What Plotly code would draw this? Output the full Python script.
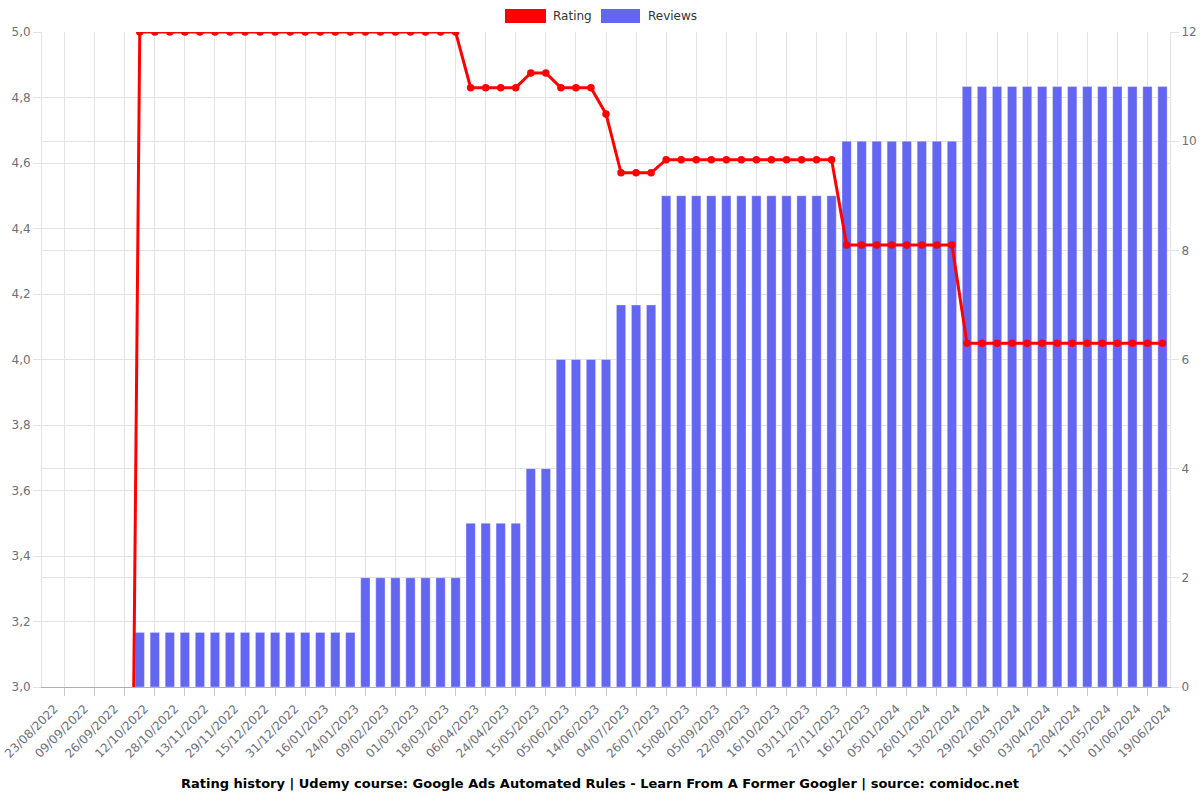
import plotly.graph_objects as go

# ---------------- data ----------------
tick_labels = [
    "23/08/2022", "09/09/2022", "26/09/2022", "12/10/2022", "28/10/2022",
    "13/11/2022", "29/11/2022", "15/12/2022", "31/12/2022", "16/01/2023",
    "24/01/2023", "09/02/2023", "01/03/2023", "18/03/2023", "06/04/2023",
    "24/04/2023", "15/05/2023", "05/06/2023", "14/06/2023", "04/07/2023",
    "26/07/2023", "15/08/2023", "05/09/2023", "22/09/2023", "16/10/2023",
    "03/11/2023", "27/11/2023", "16/12/2023", "05/01/2024", "26/01/2024",
    "13/02/2024", "29/02/2024", "16/03/2024", "03/04/2024", "22/04/2024",
    "11/05/2024", "01/06/2024", "19/06/2024",
]

ratings = [
    0, 0, 0, 0, 0, 0,
    5.0, 5.0, 5.0, 5.0, 5.0, 5.0, 5.0, 5.0, 5.0, 5.0, 5.0,
    5.0, 5.0, 5.0, 5.0, 5.0, 5.0, 5.0, 5.0, 5.0, 5.0, 5.0,
    4.83, 4.83, 4.83, 4.83,
    4.875, 4.875,
    4.83, 4.83, 4.83,
    4.75,
    4.57, 4.57, 4.57,
    4.61, 4.61, 4.61, 4.61, 4.61, 4.61, 4.61, 4.61, 4.61, 4.61, 4.61, 4.61,
    4.35, 4.35, 4.35, 4.35, 4.35, 4.35, 4.35, 4.35,
    4.05, 4.05, 4.05, 4.05, 4.05, 4.05, 4.05, 4.05, 4.05, 4.05, 4.05, 4.05, 4.05, 4.05,
]

reviews = [
    0, 0, 0, 0, 0, 0,
    1, 1, 1, 1, 1, 1, 1, 1, 1, 1, 1, 1, 1, 1, 1,
    2, 2, 2, 2, 2, 2, 2,
    3, 3, 3, 3,
    4, 4,
    6, 6, 6, 6,
    7, 7, 7,
    9, 9, 9, 9, 9, 9, 9, 9, 9, 9, 9, 9,
    10, 10, 10, 10, 10, 10, 10, 10,
    11, 11, 11, 11, 11, 11, 11, 11, 11, 11, 11, 11, 11, 11,
]

title_text = ("Rating history | Udemy course: Google Ads Automated Rules - "
              "Learn From A Former Googler | source: comidoc.net")

# ---------------- figure ----------------
n = len(ratings)
x = list(range(n))
label_pos = x[::2]
grid_pos = x[1::2]

RED = "#ff0000"
BLUE = "#6366f1"
GRID = "#e3e3e3"

fig = go.Figure()
fig.add_trace(go.Bar(
    x=x, y=reviews, name="Reviews", yaxis="y", width=0.62,
    marker=dict(color=BLUE, line=dict(color="rgba(255,255,255,0.35)", width=1)),
))
fig.add_trace(go.Scatter(
    x=x, y=ratings, name="Rating", yaxis="y2", mode="lines+markers",
    line=dict(color=RED, width=3), marker=dict(color=RED, size=7.5),
))

W, H = 1200, 800
ML, MR, MT, MB = 42, 30, 32, 113
pw, ph = W - ML - MR, H - MT - MB


def px_x(p):
    return (p - ML) / pw


def px_y(p):
    return (H - MB - p) / ph


legend_items = [("Rating", RED, 505, 546, 551), ("Reviews", BLUE, 601, 640, 646)]
shapes, annotations = [], []
for name, col, x0, x1, tx in legend_items:
    shapes.append(dict(type="rect", xref="paper", yref="paper",
                       x0=px_x(x0), x1=px_x(x1), y0=px_y(23), y1=px_y(9),
                       fillcolor=col, line=dict(width=0)))
    annotations.append(dict(text=name, xref="paper", yref="paper", x=px_x(tx),
                            y=px_y(16), xanchor="left", yanchor="middle",
                            showarrow=False, font=dict(size=12, color="#333333")))

fig.update_layout(
    width=W, height=H,
    margin=dict(l=ML, r=MR, t=MT, b=MB, autoexpand=False),
    paper_bgcolor="white", plot_bgcolor="white",
    separators=", ",
    showlegend=False,
    font=dict(family="DejaVu Sans", size=12, color="#6e7079"),
    title=dict(text="<b>" + title_text + "</b>", x=0.5, xref="container",
               xanchor="center", y=17 / H, yref="container", yanchor="middle",
               font=dict(family="DejaVu Sans", size=13, color="#000000")),
    xaxis=dict(
        range=[-0.5, n - 0.5], tickmode="array", tickvals=label_pos,
        ticktext=tick_labels, tickangle=-45, showgrid=False, ticks="",
        showline=True, linecolor="#b0b0b0", zeroline=False, automargin=False,
        ticklabeloverflow="allow", ticklabelshift=5, ticklabelstandoff=9,
        tickfont=dict(size=12, color="#6e7079"),
        minor=dict(tickmode="array", tickvals=grid_pos, showgrid=True,
                   gridcolor=GRID, ticks="outside", ticklen=8,
                   tickcolor="#c8c8c8"),
    ),
    yaxis=dict(
        side="right", range=[0, 12], dtick=2, showgrid=True, gridcolor=GRID,
        ticks="outside", ticklen=8, tickcolor=GRID, showline=True,
        linecolor=GRID, zeroline=False, automargin=False,
        tickfont=dict(size=12, color="#6e7079"),
    ),
    yaxis2=dict(
        side="left", overlaying="y", range=[3, 5], dtick=0.2, tickformat=".1f",
        showgrid=True, gridcolor=GRID, ticks="outside", ticklen=8,
        tickcolor=GRID, showline=True, linecolor=GRID, zeroline=False,
        automargin=False, tickfont=dict(size=12, color="#6e7079"),
    ),
    shapes=shapes,
    annotations=annotations,
)

fig.write_html("out.html")
